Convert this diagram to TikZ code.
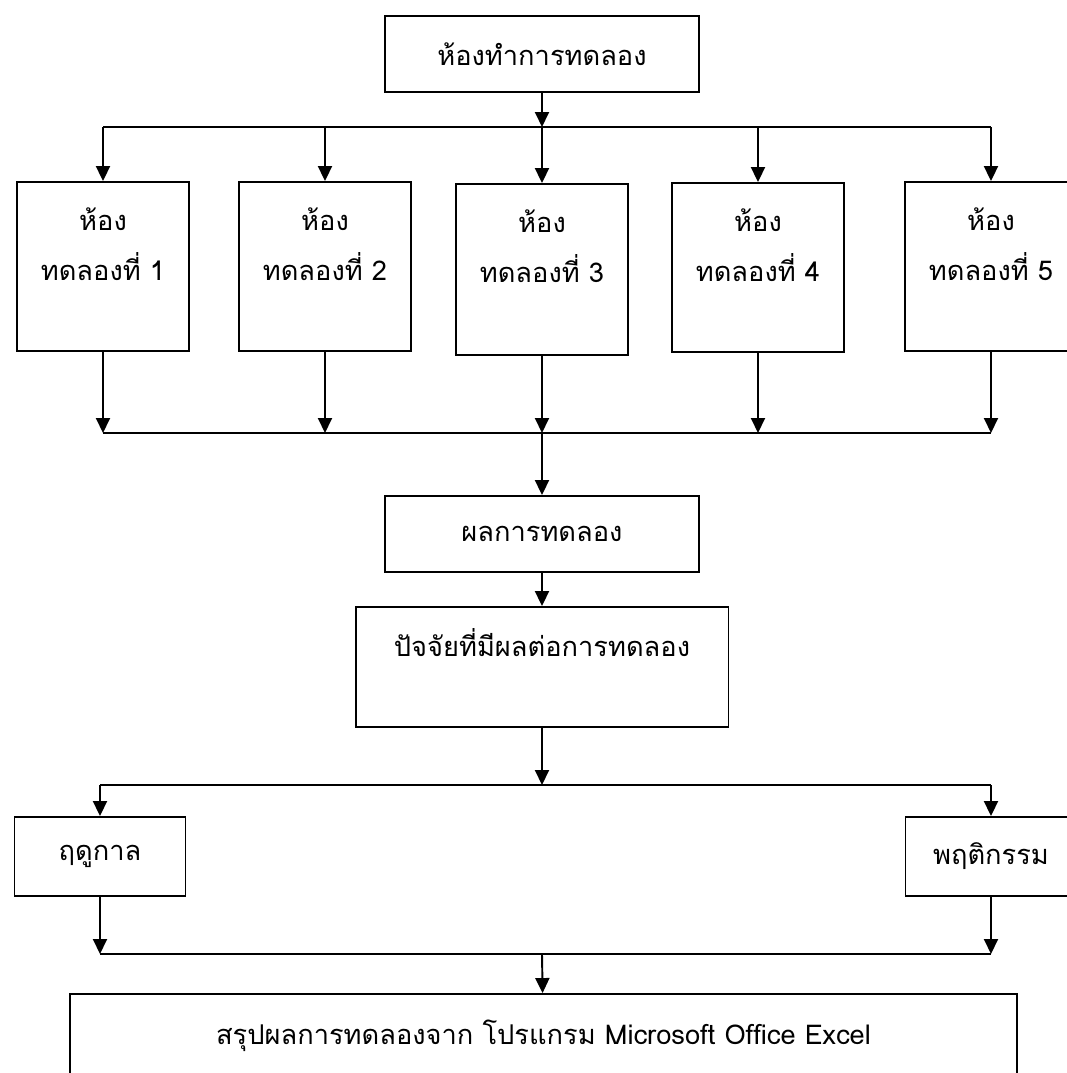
\documentclass[tikz,border=0pt]{standalone}
\usepackage{fontspec}
\setmainfont[Script=Thai]{Loma}
\usepackage{tikz}
\usetikzlibrary{arrows.meta,positioning}
\tikzset{
  box/.style={draw, line width=1.1pt, inner sep=0pt},
  roombox/.style={box, minimum width=3.44cm, minimum height=3.38cm},
  smallbox/.style={box, minimum width=3.42cm, minimum height=1.58cm},
  boxtext/.style={anchor=north, align=center, inner sep=0pt, yshift=-0.53cm},
  line/.style={line width=1.1pt},
  arr/.style={line width=1.1pt, -{Triangle[length=0.3cm,width=0.28cm]}},
}

\begin{document}
\begin{tikzpicture}[x=0.02cm, y=-0.02cm, font=\fontsize{15.5}{28.5}\selectfont]
  \useasboundingbox (0,0) rectangle (1067,1073);
  \clip (0,0) rectangle (1067,1073);

  % Laboratory
  \node[box, minimum width=6.28cm, minimum height=1.52cm] (lab) at (542,54) {ห้องทำการทดลอง};
  \coordinate (busA) at (542,127);
  \draw[arr] (lab) -- (busA);

  % Rooms
  \node[roombox, label={[boxtext]north:ห้อง\\ทดลองที่ 1}] (room1) at (103,266.5) {};
  \node[roombox, label={[boxtext]north:ห้อง\\ทดลองที่ 2}] (room2) at (325,266.5) {};
  \node[roombox, minimum height=3.42cm, label={[boxtext]north:ห้อง\\ทดลองที่ 3}] (room3) at (542,269.5) {};
  \node[roombox, label={[boxtext]north:ห้อง\\ทดลองที่ 4}] (room4) at (758,267.5) {};
  \node[roombox, label={[boxtext]north:ห้อง\\ทดลองที่ 5}] (room5) at (991,266.5) {};
  \draw[line] (room1.north |- busA) -- (room5.north |- busA);
  \foreach \i in {1,...,5}
    \draw[arr] (room\i.north |- busA) -- (room\i.north);

  % Collect results
  \coordinate (busB) at (542,433);
  \foreach \i in {1,...,5}
    \draw[arr] (room\i.south) -- (room\i.south |- busB);
  \draw[line] (room1.south |- busB) -- (room5.south |- busB);

  \node[box, minimum width=6.28cm, minimum height=1.52cm] (result) at (542,534) {ผลการทดลอง};
  \draw[arr] (busB) -- (result);

  \node[box, minimum width=7.46cm, minimum height=2.4cm, label={[boxtext, yshift=0.08cm]north:ปัจจัยที่มีผลต่อการทดลอง}] (factor) at (542,667) {};
  \draw[arr] (result) -- (factor);

  % Factors
  \coordinate (busC) at (542,785);
  \draw[arr] (factor) -- (busC);
  \node[smallbox] (season) at (100,856.5) {ฤดูกาล};
  \node[smallbox] (behavior) at (991,856.5) {พฤติกรรม};
  \draw[line] (season.north |- busC) -- (behavior.north |- busC);
  \draw[arr] (season.north |- busC) -- (season);
  \draw[arr] (behavior.north |- busC) -- (behavior);

  % Summary
  \coordinate (busD) at (542,954);
  \draw[arr] (season) -- (season |- busD);
  \draw[arr] (behavior) -- (behavior |- busD);
  \draw[line] (season |- busD) -- (behavior |- busD);
  \node[box, minimum width=18.94cm, minimum height=2.2cm, label={[boxtext]north:สรุปผลการทดลองจาก โปรแกรม Microsoft Office Excel}] (summary) at (543.5,1049) {};
  \draw[arr] (busD) -- (summary);
\end{tikzpicture}
\end{document}
